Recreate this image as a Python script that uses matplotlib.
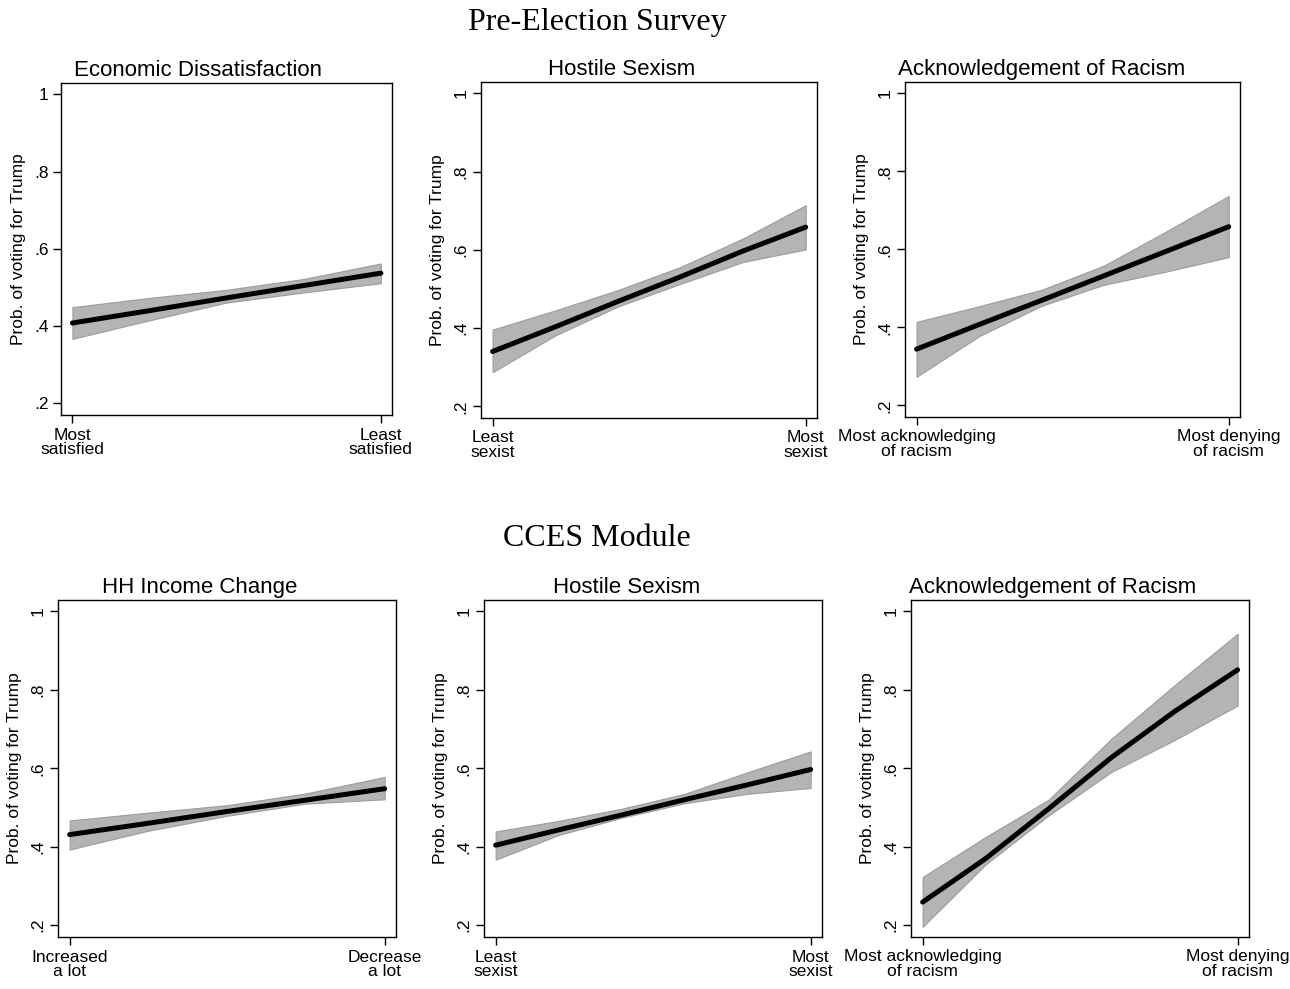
import matplotlib
matplotlib.use('Agg')
from matplotlib import pyplot as plt

plt.rcParams['font.family'] = ['Liberation Sans', 'DejaVu Sans']

# Data (predicted prob. of voting for Trump)
x_quarters = [0, 0.25, 0.5, 0.75, 1]
x_fifths = [0, 0.2, 0.4, 0.6, 0.8, 1]

econ_mean = [0.408, 0.440, 0.473, 0.505, 0.537]
econ_lo = [0.367, 0.415, 0.461, 0.487, 0.511]
econ_hi = [0.449, 0.473, 0.494, 0.522, 0.562]

sexism_pre_mean = [0.340, 0.403, 0.468, 0.531, 0.597, 0.658]
sexism_pre_lo = [0.287, 0.381, 0.455, 0.513, 0.569, 0.601]
sexism_pre_hi = [0.396, 0.445, 0.497, 0.556, 0.629, 0.714]

racism_pre_mean = [0.344, 0.407, 0.469, 0.532, 0.595, 0.658]
racism_pre_lo = [0.273, 0.377, 0.455, 0.509, 0.543, 0.580]
racism_pre_hi = [0.414, 0.454, 0.496, 0.558, 0.646, 0.737]

income_mean = [0.431, 0.460, 0.490, 0.519, 0.548]
income_lo = [0.393, 0.441, 0.479, 0.510, 0.521]
income_hi = [0.467, 0.487, 0.506, 0.536, 0.578]

sexism_cces_mean = [0.404, 0.443, 0.481, 0.520, 0.558, 0.597]
sexism_cces_lo = [0.367, 0.430, 0.474, 0.511, 0.535, 0.550]
sexism_cces_hi = [0.439, 0.466, 0.497, 0.535, 0.590, 0.643]

racism_cces_mean = [0.259, 0.370, 0.497, 0.628, 0.745, 0.851]
racism_cces_lo = [0.196, 0.355, 0.480, 0.591, 0.672, 0.760]
racism_cces_hi = [0.323, 0.425, 0.520, 0.676, 0.812, 0.943]

y_ticks = [0.2, 0.4, 0.6, 0.8, 1.0]
y_ticklabels = ['.2', '.4', '.6', '.8', '1']

panels = [
    # title, x, mean, lo, hi, end labels, box (px: left, top, right, bottom), title centre px, rotate y labels
    ('Economic Dissatisfaction', x_quarters, econ_mean, econ_lo, econ_hi,
     ['Most\nsatisfied', 'Least\nsatisfied'], (61, 83, 392, 415), 198, False),
    ('Hostile Sexism', x_fifths, sexism_pre_mean, sexism_pre_lo, sexism_pre_hi,
     ['Least\nsexist', 'Most\nsexist'], (481, 82, 817, 418), 622, True),
    ('Acknowledgement of Racism', x_fifths, racism_pre_mean, racism_pre_lo, racism_pre_hi,
     ['Most acknowledging\nof racism', 'Most denying\nof racism'], (905, 82, 1240, 417), 1042, True),
    ('HH Income Change', x_quarters, income_mean, income_lo, income_hi,
     ['Increased\na lot', 'Decrease\na lot'], (58, 600, 396, 937), 200, True),
    ('Hostile Sexism', x_fifths, sexism_cces_mean, sexism_cces_lo, sexism_cces_hi,
     ['Least\nsexist', 'Most\nsexist'], (484, 600, 822, 937), 627, True),
    ('Acknowledgement of Racism', x_fifths, racism_cces_mean, racism_cces_lo, racism_cces_hi,
     ['Most acknowledging\nof racism', 'Most denying\nof racism'], (911, 600, 1249, 937), 1053, True),
]

W, H = 1290, 989
fig = plt.figure(figsize=(W / 100, H / 100), dpi=100)

for title, xs, mean, lo, hi, end_labels, box, title_cx, rotate in panels:
    left, top, right, bottom = box
    ax = fig.add_axes([left / W, 1 - bottom / H, (right - left) / W, (bottom - top) / H])

    ax.fill_between(xs, lo, hi, facecolor='#b4b4b4', edgecolor='#9c9c9c', linewidth=0.8)
    ax.plot(xs, mean, color='black', linewidth=3.6, solid_capstyle='round')

    ax.set_xlim(-0.037, 1.036)
    ax.set_ylim(0.17, 1.029)
    ax.set_xticks([0, 1])
    ax.set_xticklabels(end_labels, fontsize=12.5, linespacing=0.95)
    ax.set_yticks(y_ticks)
    if rotate:
        ax.set_yticklabels(y_ticklabels, fontsize=12.5, rotation=90, va='center')
    else:
        ax.set_yticklabels(y_ticklabels, fontsize=12.5)
    ax.tick_params(axis='both', length=6, width=1, pad=3)
    ax.set_ylabel('Prob. of voting for Trump', fontsize=12.5, labelpad=6)
    for spine in ax.spines.values():
        spine.set_linewidth(1)

    ax.set_title(title, fontsize=16, x=(title_cx - left) / (right - left), pad=5)

fig.text(597 / W, 1 - 30 / H, 'Pre-Election Survey', ha='center', va='baseline',
         fontsize=23, family='Liberation Serif')
fig.text(597 / W, 1 - 546 / H, 'CCES Module', ha='center', va='baseline',
         fontsize=23, family='Liberation Serif')

fig.savefig('out.png', dpi=100, facecolor='white')
